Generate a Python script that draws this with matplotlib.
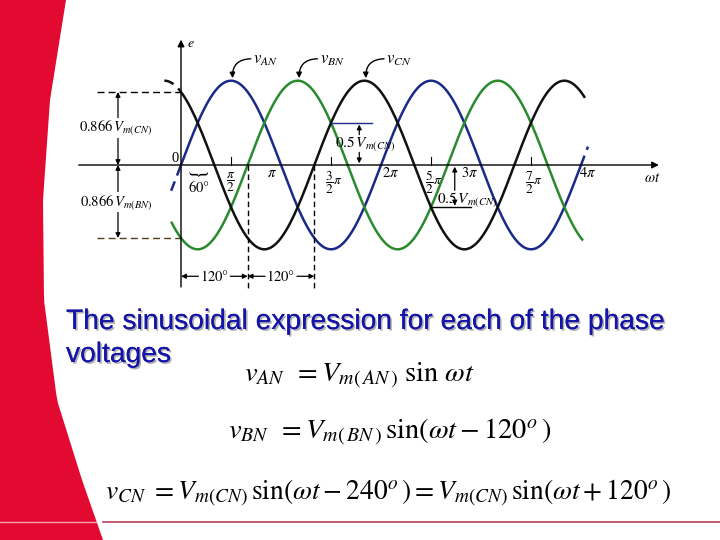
import numpy as np
import matplotlib
matplotlib.use("Agg")
import matplotlib.pyplot as plt
from matplotlib.patches import Polygon
import matplotlib.patheffects as pe

plt.rcParams['mathtext.fontset'] = 'stix'
plt.rcParams['font.family'] = ['Liberation Serif', 'DejaVu Serif']

PI = np.pi
# ---------------- data ----------------
phase_names = ['AN', 'BN', 'CN']
phase_shift_deg = [0, -120, 120]
amplitudes = [1.0, 1.0, 1.0]
phase_colors = ['#1a2a88', '#2a8a2e', '#111111']
solid_start = [0.0, -0.31, 0.0]
solid_end = [4 * PI, 4.02 * PI, 4.04 * PI]
dash_start = [-0.31, None, -PI / 6]
dash_after_end = [4.07 * PI, None, None]
label_peak_x = [PI / 2, 7 * PI / 6, 11 * PI / 6]

tick_values = [PI / 2, PI, 3 * PI / 2, 2 * PI, 5 * PI / 2, 3 * PI, 7 * PI / 2, 4 * PI]
tick_labels = [r'$\dfrac{\pi}{2}$', r'$\pi$', r'$\dfrac{3}{2}\pi$', r'$2\pi$',
               r'$\dfrac{5}{2}\pi$', r'$3\pi$', r'$\dfrac{7}{2}\pi$', r'$4\pi$']
tick_label_shift = [0.0, -0.3, 0.1, 0.3, 0.1, -0.35, 0.1, 0.22]
level_866 = 0.866
level_half = 0.5

# ---------------- figure ----------------
fig = plt.figure(figsize=(7.2, 5.4), dpi=100)
bg = fig.add_axes([0, 0, 1, 1])
bg.set_xlim(0, 720)
bg.set_ylim(540, 0)
bg.axis('off')

# red decorative band on the left
ys = np.linspace(0, 540, 60)
bx = np.interp(ys, [0, 100, 200, 300, 400, 480, 540], [66, 50, 43, 44, 57, 82, 103])
pts = [(0, 0)] + list(zip(bx, ys)) + [(0, 540)]
bg.add_patch(Polygon(pts, closed=True, facecolor='#e20a30', edgecolor='none'))
bg.plot([103, 720], [522, 522], color='#b8405a', lw=1.2)
bg.plot([0, 96], [522, 522], color='#f3a0b0', lw=1.0)

# slide text
shadow = [pe.withSimplePatchShadow(offset=(1.2, -1.2), shadow_rgbFace='#9a9a9a', alpha=0.8), pe.Normal()]
for line, yy in [('The sinusoidal expression for each of the phase', 322), ('voltages', 355)]:
    t = bg.text(66, yy, line, family='Liberation Sans', fontsize=20.3, color='#1414a8',
                va='center', ha='left')
    t.set_path_effects(shadow)
bg.text(359, 376, r'$v_{AN}\ \,= V_{m(\,AN\,)}\ \sin\,\omega t$', fontsize=20.5, ha='center', va='center')
bg.text(390, 432, r'$v_{BN}\ \,= V_{m(\,BN\,)}\,\sin(\omega t - 120^{o}\,)$', fontsize=20.5, ha='center', va='center')
bg.text(388, 493, r'$v_{CN}\ = V_{m(CN)}\,\sin(\omega t - 240^{o}\,) = V_{m(CN)}\,\sin(\omega t + 120^{o}\,)$',
        fontsize=19.8, ha='center', va='center')

# ---------------- chart axes ----------------
px_per_rad = 100 / PI
px_per_unit = 84.3
ox, oy = 181, 165
L, R, T, B = 75, 695, 25, 295
ax = fig.add_axes([L / 720, 1 - B / 540, (R - L) / 720, (B - T) / 540])
ax.set_xlim((L - ox) / px_per_rad, (R - ox) / px_per_rad)
ax.set_ylim(-(B - oy) / px_per_unit, (oy - T) / px_per_unit)
ax.axis('off')
ax.patch.set_alpha(0)

# axes lines
ax.annotate('', xy=(15.1, 0), xytext=(-3.3, 0),
            arrowprops=dict(arrowstyle='-|>', color='black', lw=1.0, mutation_scale=10))
ax.annotate('', xy=(0, 1.52), xytext=(0, -1.48),
            arrowprops=dict(arrowstyle='-|>', color='black', lw=1.0, mutation_scale=10))
ax.text(0.3, 1.44, r'$e$', fontsize=10, ha='center', va='center')
ax.text(14.8, -0.16, r'$\omega t$', fontsize=10.5, ha='center', va='center')
ax.text(-0.2, 0.08, '0', fontsize=10.5, ha='center', va='center')

# phase curves
for name, sh, A, c, s0, s1, d0, d1, pk in zip(phase_names, phase_shift_deg, amplitudes, phase_colors,
                                               solid_start, solid_end, dash_start, dash_after_end, label_peak_x):
    ph = np.deg2rad(sh)
    x = np.linspace(s0, s1, 600)
    ax.plot(x, A * np.sin(x + ph), color=c, lw=1.8, solid_capstyle='butt')
    if d0 is not None:
        xd = np.linspace(d0, 0, 40)
        ax.plot(xd, A * np.sin(xd + ph), color=c, lw=1.8, ls=(0, (4, 2.5)))
    if d1 is not None:
        xd = np.linspace(4 * PI, d1, 40)
        ax.plot(xd, A * np.sin(xd + ph), color=c, lw=1.8, ls=(0, (4, 2.5)))
    ax.text(pk + 1.08, 1.24, r'$v_{%s}$' % name, fontsize=12, ha='center', va='center')
    ax.annotate('', xy=(pk + 0.05, 1.03), xytext=(pk + 0.62, 1.26),
                arrowprops=dict(arrowstyle='-|>', color='black', lw=1.0, mutation_scale=8,
                                connectionstyle='arc3,rad=0.5', shrinkA=0, shrinkB=0))

# ticks and labels
for v, lab, dx in zip(tick_values, tick_labels, tick_label_shift):
    frac = 'frac' in lab
    if frac:
        ax.plot([v, v], [0, 0.09], color='black', lw=0.8)
        ax.text(v + dx, -0.21, lab, fontsize=9.5, ha='center', va='center')
    else:
        ax.text(v + dx, -0.1, lab, fontsize=10.5, ha='center', va='center')

# 0.866 levels
ax.plot([-2.64, 0], [level_866, level_866], color='black', lw=1.0, ls=(0, (5, 3)))
ax.plot([-2.64, 0], [-level_866, -level_866], color='#5a3a1a', lw=1.0, ls=(0, (5, 3)))
for y0, y1 in [(0, level_866), (0, -level_866)]:
    ax.annotate('', xy=(-1.98, y1), xytext=(-1.98, y0),
                arrowprops=dict(arrowstyle='<|-|>', color='black', lw=0.9, mutation_scale=7,
                                shrinkA=0, shrinkB=0))
ax.text(-2.05, 0.44, r'$0.866\,V_{m(CN)}$', fontsize=10.5, ha='center', va='center',
        bbox=dict(facecolor='white', edgecolor='none', pad=0.5))
ax.text(-2.05, -0.44, r'$0.866\,V_{m(BN)}$', fontsize=10.5, ha='center', va='center',
        bbox=dict(facecolor='white', edgecolor='none', pad=0.5))

# 60 degree brace
ax.text(PI / 6, -0.09, r'$\}$', fontsize=16, rotation=-90, ha='center', va='center')
ax.text(PI / 6 + 0.05, -0.27, r'$60°$', fontsize=10.5, ha='center', va='center')

# 120 degree markers
for xv in [2 * PI / 3, 4 * PI / 3]:
    ax.plot([xv, xv], [0, -1.48], color='black', lw=1.0, ls=(0, (4, 2.5)))
for a, b in [(0, 2 * PI / 3), (2 * PI / 3, 4 * PI / 3)]:
    ax.annotate('', xy=(a, -1.32), xytext=((a + b) / 2 - 0.5, -1.32),
                arrowprops=dict(arrowstyle='-|>', color='black', lw=0.9, mutation_scale=7, shrinkA=0, shrinkB=0))
    ax.annotate('', xy=(b, -1.32), xytext=((a + b) / 2 + 0.5, -1.32),
                arrowprops=dict(arrowstyle='-|>', color='black', lw=0.9, mutation_scale=7, shrinkA=0, shrinkB=0))
    ax.text((a + b) / 2, -1.32, r'$120°$', fontsize=10.5, ha='center', va='center')

# 0.5 Vm markers
ax.plot([3 * PI / 2, 3 * PI / 2 + 1.3], [level_half, level_half], color='#1a2a88', lw=1.0)
ax.annotate('', xy=(5.6, level_half - 0.02), xytext=(5.6, 0.36),
            arrowprops=dict(arrowstyle='-|>', color='black', lw=0.9, mutation_scale=7, shrinkA=0, shrinkB=0))
ax.annotate('', xy=(5.6, 0.02), xytext=(5.6, 0.15),
            arrowprops=dict(arrowstyle='-|>', color='black', lw=0.9, mutation_scale=7, shrinkA=0, shrinkB=0))
ax.text(5.8, 0.26, r'$0.5\,V_{m(CN)}$', fontsize=11, ha='center', va='center')

ax.plot([5 * PI / 2, 5 * PI / 2 + 1.25], [-level_half, -level_half], color='black', lw=1.0)
ax.annotate('', xy=(8.6, -0.02), xytext=(8.6, -0.3),
            arrowprops=dict(arrowstyle='-|>', color='black', lw=0.9, mutation_scale=7, shrinkA=0, shrinkB=0))
ax.annotate('', xy=(8.6, -level_half + 0.02), xytext=(8.6, -0.46),
            arrowprops=dict(arrowstyle='-|>', color='black', lw=0.9, mutation_scale=7, shrinkA=0, shrinkB=0))
ax.text(9.0, -0.41, r'$0.5\,V_{m(CN)}$', fontsize=11, ha='center', va='center')

fig.savefig('out.png', dpi=100)
